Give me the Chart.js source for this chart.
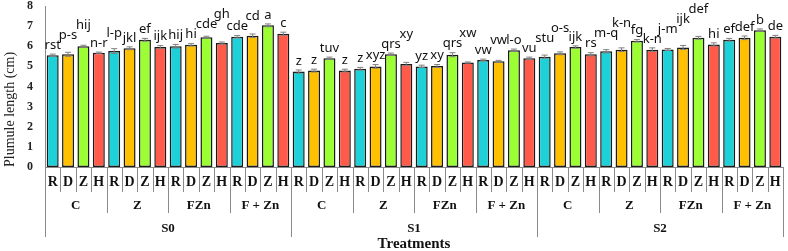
<!DOCTYPE html>
<html>
<head>
<meta charset="utf-8">
<script src="https://cdn.jsdelivr.net/npm/chart.js@4.4.1/dist/chart.umd.min.js"></script>
<style>
  html, body { margin: 0; padding: 0; background: #fff; }
  #wrap { width: 788px; height: 251px; }
</style>
</head>
<body>
<div id="wrap"><canvas id="chart" width="788" height="251"></canvas></div>
<script>
// Datos: S0/S1/S2 x C/Z/FZn/F + Zn x R/D/Z/H
const subgroups = ['R', 'D', 'Z', 'H'];
const treatments = ['C', 'Z', 'FZn', 'F + Zn'];
const salinity = ['S0', 'S1', 'S2'];
const yTicks = [0, 1, 2, 3, 4, 5, 6, 7, 8];

const plumule = [
  5.55, 5.60, 6.00, 5.68, 5.76, 5.90, 6.32, 5.96, 6.00, 6.07, 6.45, 6.16, 6.47, 6.52, 7.04, 6.62,
  4.74, 4.79, 5.40, 4.79, 4.88, 5.00, 5.60, 5.12, 5.00, 5.02, 5.58, 5.19, 5.32, 5.25, 5.80, 5.40,
  5.48, 5.65, 5.96, 5.60, 5.75, 5.83, 6.27, 5.83, 5.84, 5.94, 6.42, 6.09, 6.32, 6.42, 6.80, 6.47
];
const plumuleErr = [
  0.06, 0.10, 0.05, 0.03, 0.12, 0.07, 0.07, 0.07, 0.09, 0.06, 0.05, 0.05, 0.06, 0.09, 0.07, 0.08,
  0.08, 0.07, 0.06, 0.07, 0.07, 0.09, 0.06, 0.08, 0.06, 0.07, 0.10, 0.03, 0.04, 0.05, 0.06, 0.06,
  0.08, 0.07, 0.06, 0.08, 0.08, 0.09, 0.06, 0.09, 0.05, 0.10, 0.07, 0.08, 0.07, 0.09, 0.06, 0.07
];
const letters = [
  'rst', 'p-s', 'hij', 'n-r', 'l-p', 'jkl', 'ef', 'ijk', 'hij', 'hi', 'cde', 'gh', 'cde', 'cd', 'a', 'c',
  'z', 'z', 'tuv', 'z', 'z', 'xyz', 'qrs', 'xy', 'yz', 'xy', 'qrs', 'xw', 'vw', 'vw', 'l-o', 'vu',
  'stu', 'o-s', 'ijk', 'rs', 'm-q', 'k-n', 'fg', 'k-n', 'j-m', 'ijk', 'def', 'hi', 'ef', 'def', 'b', 'de'
];

const COLORES = ['#1ed0d8', '#ffc000', '#9bff33', '#ff5a4a'];
const SERIF = '"Liberation Serif", "Times New Roman", serif';

const etiquetas = plumule.map((_, i) => subgroups[i % 4]);
const coloresBarras = plumule.map((_, i) => COLORES[i % 4]);

// Dibuja separadores, grupos, barras de error y letras
const decoraciones = {
  id: 'decoraciones',
  afterDatasetsDraw(chart) {
    const { ctx, scales: { y } } = chart;
    const meta = chart.getDatasetMeta(0);
    ctx.save();

    // barras de error
    ctx.strokeStyle = '#808080';
    ctx.lineWidth = 1;
    plumule.forEach((v, i) => {
      const cx = meta.data[i].x;
      const y1 = y.getPixelForValue(v + plumuleErr[i]);
      const y2 = y.getPixelForValue(v - plumuleErr[i]);
      ctx.beginPath();
      ctx.moveTo(cx, y1); ctx.lineTo(cx, y2);
      ctx.moveTo(cx - 3, y1); ctx.lineTo(cx + 3, y1);
      ctx.moveTo(cx - 3, y2); ctx.lineTo(cx + 3, y2);
      ctx.stroke();
    });

    // letras de significancia, se suben si chocan con la anterior
    ctx.font = '13px "Noto Sans", "Liberation Sans", sans-serif';
    ctx.fillStyle = '#111';
    ctx.textAlign = 'center';
    ctx.textBaseline = 'middle';
    const cajas = [];
    plumule.forEach((v, i) => {
      const cx = meta.data[i].x;
      const w = ctx.measureText(letters[i]).width;
      let cy = y.getPixelForValue(v + plumuleErr[i]) - 9;
      for (let k = cajas.length - 1; k >= Math.max(0, cajas.length - 2); k--) {
        const c = cajas[k];
        const solapaX = cx - w / 2 < c.x + c.w / 2 - 1 && cx + w / 2 > c.x - c.w / 2 + 1;
        if (solapaX && Math.abs(cy - c.y) < 10) cy = Math.min(cy, c.y - 10);
      }
      cajas.push({ x: cx, y: cy, w });
      ctx.fillText(letters[i], cx, cy);
    });
    ctx.restore();
  },
  afterDraw(chart) {
    const { ctx, chartArea } = chart;
    const paso = (chartArea.right - chartArea.left) / plumule.length;
    ctx.save();
    ctx.strokeStyle = '#8a8a8a';
    ctx.lineWidth = 1;
    for (let i = 0; i <= plumule.length; i++) {
      const px = Math.round(chartArea.left + i * paso) + 0.5;
      let fin = chartArea.bottom + 25;
      if (i % 16 === 0) fin = chartArea.bottom + 70;
      else if (i % 4 === 0) fin = chartArea.bottom + 46;
      ctx.beginPath();
      ctx.moveTo(px, chartArea.bottom);
      ctx.lineTo(px, fin);
      ctx.stroke();
    }
    ctx.fillStyle = '#111';
    ctx.textAlign = 'center';
    ctx.textBaseline = 'middle';
    ctx.font = 'bold 13px ' + SERIF;
    for (let g = 0; g < plumule.length / 4; g++) {
      const cx = chartArea.left + (g * 4 + 2) * paso;
      ctx.fillText(treatments[g % 4], cx, chartArea.bottom + 39);
    }
    salinity.forEach((s, k) => {
      const cx = chartArea.left + (k * 16 + 8) * paso;
      ctx.fillText(s, cx, chartArea.bottom + 62);
    });
    ctx.restore();
  }
};

new Chart(document.getElementById('chart'), {
  type: 'bar',
  data: {
    labels: etiquetas,
    datasets: [{
      data: plumule,
      backgroundColor: coloresBarras,
      borderColor: '#1a1a1a',
      borderWidth: 1.5,
      borderSkipped: false,
      categoryPercentage: 1,
      barPercentage: 0.78
    }]
  },
  options: {
    responsive: false,
    devicePixelRatio: 1,
    animation: false,
    layout: { padding: { top: 6, right: 5, left: 0, bottom: 0 } },
    plugins: { legend: { display: false }, tooltip: { enabled: false } },
    scales: {
      x: {
        grid: { display: false, drawTicks: false },
        border: { color: '#8a8a8a', width: 1 },
        ticks: {
          autoSkip: false, maxRotation: 0, padding: 7,
          color: '#111',
          font: { family: SERIF, weight: 'bold', size: 14 }
        },
        title: {
          display: true, text: 'Treatments', color: '#111',
          font: { family: SERIF, weight: 'bold', size: 15 },
          padding: { top: 0, bottom: -2 }
        },
        afterFit(scale) {
          scale.height = 84;
          scale.paddingLeft = 0;
          scale.paddingRight = 0;
        }
      },
      y: {
        min: 0, max: 8,
        afterBuildTicks(scale) { scale.ticks = yTicks.map(v => ({ value: v })); },
        grid: { display: false, drawTicks: false },
        border: { color: '#8a8a8a', width: 1 },
        ticks: {
          autoSkip: false, padding: 12, color: '#222',
          font: { family: SERIF, weight: 'bold', size: 12 }
        },
        title: {
          display: true, text: 'Plumule length (cm)', align: 'start', color: '#222',
          font: { family: SERIF, size: 14 },
          padding: { top: 2, bottom: 0 }
        },
        afterFit(scale) {
          scale.width = 45;
          scale.paddingTop = 0;
          scale.paddingBottom = 0;
        }
      }
    }
  },
  plugins: [decoraciones]
});
</script>
</body>
</html>
